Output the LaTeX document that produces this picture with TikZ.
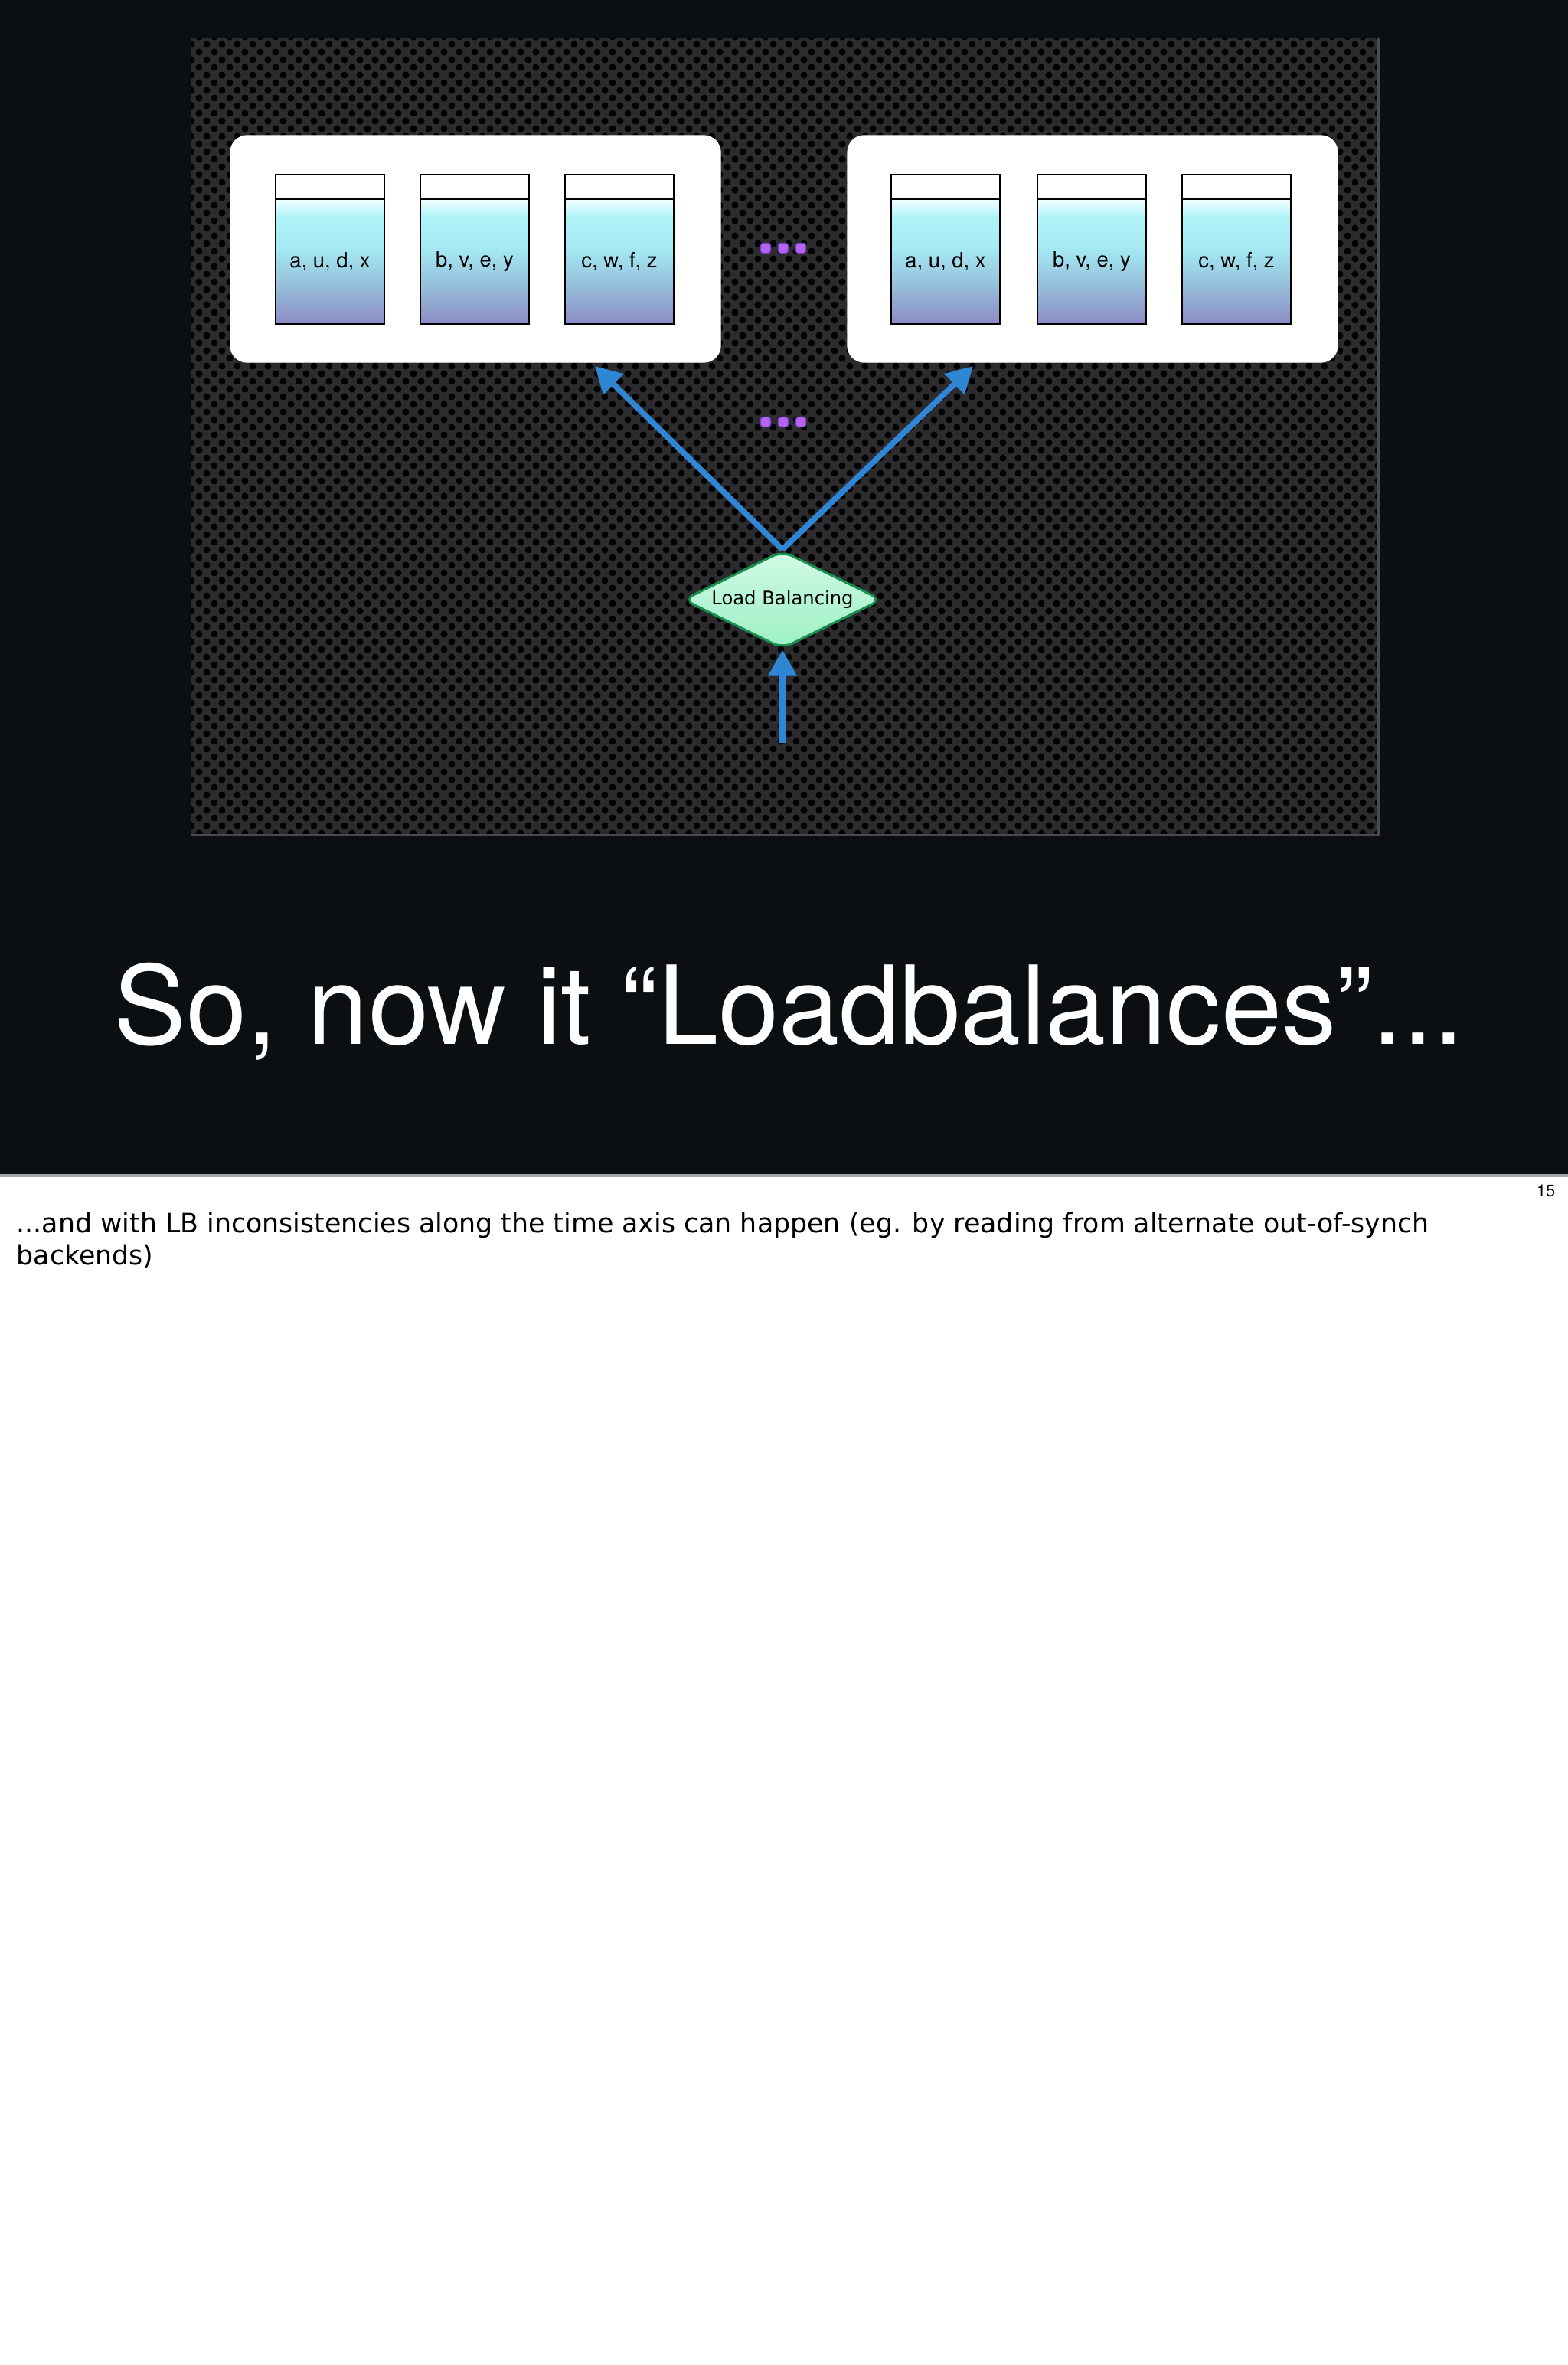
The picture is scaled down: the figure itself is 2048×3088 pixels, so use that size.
\documentclass[tikz,border=0pt]{standalone}
\usepackage{fontspec}
\setmainfont{TeX Gyre Heros}
\newfontfamily\notesfont{DejaVu Sans}
\usetikzlibrary{shapes.geometric,arrows.meta,patterns.meta}

\definecolor{slidebg}{HTML}{0C0F12}
\definecolor{panelbg}{HTML}{2C2C2E}
\definecolor{paneledge}{HTML}{4A4A4C}
\definecolor{arrowblue}{HTML}{2E86D4}
\definecolor{lbfill}{HTML}{D2FAE6}
\definecolor{lbfillb}{HTML}{9CF0C4}
\definecolor{lbedge}{HTML}{17914F}
\definecolor{dotpurple}{HTML}{B466F2}
\definecolor{dotedge}{HTML}{7E3CC8}
\definecolor{coltop}{HTML}{F2FEFF}
\definecolor{colcyan}{HTML}{B0F4FA}
\definecolor{colmid}{HTML}{A4E8F2}
\definecolor{collow}{HTML}{96BEDA}
\definecolor{colbot}{HTML}{8C8AC4}

\pgfdeclareverticalshading{colshade}{100bp}{color(0bp)=(colbot); color(25bp)=(colbot);
  color(40bp)=(collow); color(55bp)=(colmid); color(68bp)=(colcyan); color(75bp)=(coltop); color(100bp)=(coltop)}

\begin{document}
\begin{tikzpicture}[x=0.1mm,y=-0.1mm,
  rack/.style={draw=white,fill=white,rounded corners=2.2mm,minimum width=64mm,minimum height=29.6mm},
  colhead/.style={draw=black,line width=0.8pt,fill=white,minimum width=14.2mm,minimum height=3.2mm,inner sep=0pt},
  colbody/.style={draw=black,line width=0.8pt,shade,shading=colshade,minimum width=14.2mm,minimum height=16.3mm,inner sep=0pt,font=\fontsize{7.8}{9}\selectfont},
  more/.style={rectangle,rounded corners=0.35mm,fill=dotpurple,draw=dotedge,line width=0.4pt,minimum size=1.3mm,inner sep=0pt},
  lb/.style={diamond,aspect=2,rounded corners=1.4mm,draw=lbedge,line width=0.3mm,top color=lbfill,bottom color=lbfillb,minimum width=25.9mm,minimum height=12.8mm,inner sep=0pt,font=\notesfont\fontsize{6.9}{8}\selectfont},
  flow/.style={line width=0.75mm,draw=arrowblue,-{Triangle[length=3.4mm,width=3.6mm]}}]

\useasboundingbox (0,0) rectangle (2048,3088);
\fill[white] (0,0) rectangle (2048,3088);
\fill[slidebg] (0,0) rectangle (2048,1535);

%panel
\fill[panelbg] (250,49) rectangle (1800,1090);
\fill[pattern={Dots[distance=2mm,radius=0.45mm]},pattern color=black] (250,49) rectangle (1800,1090);
\fill[pattern={Dots[distance=2mm,radius=0.45mm,xshift=1mm,yshift=1mm]},pattern color=black] (250,49) rectangle (1800,1090);
\draw[paneledge,line width=0.3mm] (250,1090) -- (1800,1090) -- (1800,49);
\draw[gray!70,line width=0.4mm] (0,1535) -- (2048,1535);

%left rack
\node[rack] (rackL) at (621,325) {};
\node[colhead] (hL1) at (431,244) {};
\node[colbody] (cL1) at (431,341.5) {a, u, d, x};
\node[colhead] (hL2) at (620,244) {};
\node[colbody] (cL2) at (620,341.5) {b, v, e, y};
\node[colhead] (hL3) at (809,244) {};
\node[colbody] (cL3) at (809,341.5) {c, w, f, z};

%right rack
\node[rack] (rackR) at (1427,325) {};
\node[colhead] (hR1) at (1235,244) {};
\node[colbody] (cR1) at (1235,341.5) {a, u, d, x};
\node[colhead] (hR2) at (1426,244) {};
\node[colbody] (cR2) at (1426,341.5) {b, v, e, y};
\node[colhead] (hR3) at (1615,244) {};
\node[colbody] (cR3) at (1615,341.5) {c, w, f, z};

%more racks
\node[more] (m1) at (1000,324) {};
\node[more] (m2) at (1023,324) {};
\node[more] (m3) at (1046,324) {};
\node[more] (m4) at (1000,551) {};
\node[more] (m5) at (1023,551) {};
\node[more] (m6) at (1046,551) {};

%load balancer
\node[lb] (LB) at (1022,783) {Load Balancing};
\coordinate (tipL) at (777,478);
\coordinate (tipR) at (1271,478);
\coordinate (src) at (1022,970);

\draw[flow] (LB.north) -- (tipL);
\draw[flow] (LB.north) -- (tipR);
\draw[flow] (src) -- (LB.south);

\node[anchor=base west,inner sep=0pt,text=white,font=\fontsize{40.5}{48}\selectfont] (title) at (148,1363) {So, now it “Loadbalances”...};

\node[anchor=base east,inner sep=0pt,font=\fontsize{6.2}{7}\selectfont] (page) at (2032,1562) {15};
\node[anchor=base west,inner sep=0pt,align=left,font=\notesfont\fontsize{9.9}{11.7}\selectfont] (notes) at (21,1651) {...and with LB inconsistencies along the time axis can happen (eg. by reading from alternate out-of-synch\\backends)};
\end{tikzpicture}
\end{document}
